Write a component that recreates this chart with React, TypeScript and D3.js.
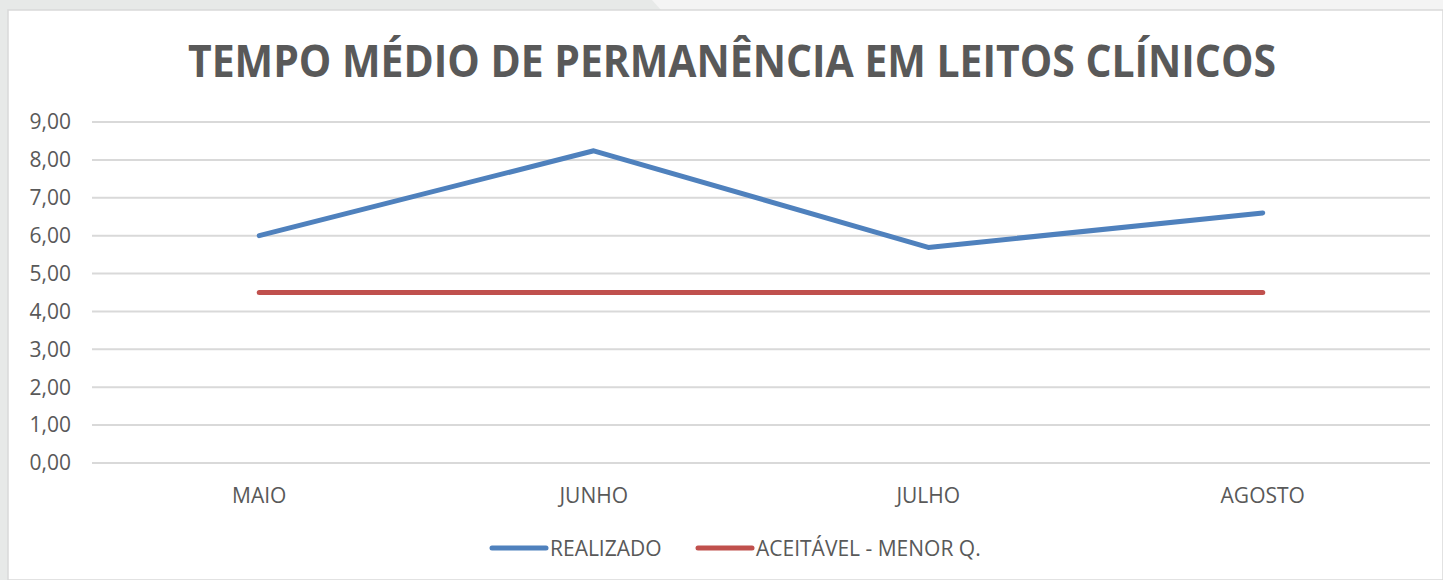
import React from "react";
import * as d3 from "d3";

const categories = ["MAIO", "JUNHO", "JULHO", "AGOSTO"];
const realizado = [6.0, 8.24, 5.69, 6.6];
const aceitavel = [4.5, 4.5, 4.5, 4.5];
const yTicks = [0, 1, 2, 3, 4, 5, 6, 7, 8, 9];
const seriesNames = ["REALIZADO", "ACEITÁVEL - MENOR Q."];
const seriesColors = ["#4f81bd", "#c0504d"];

const W = 1443;
const H = 580;
const left = 92;
const right = 1430;
const top = 122;
const bottom = 463;
const font = "'Open Sans', sans-serif";
const textColor = "#595959";

export default function App() {
  const x = d3.scaleBand<string>().domain(categories).range([left, right]);
  const y = d3.scaleLinear().domain([0, 9]).range([bottom, top]);
  const cx = (c: string) => (x(c) as number) + x.bandwidth() / 2;
  const line = d3
    .line<number>()
    .x((_, i) => cx(categories[i]))
    .y((d) => y(d));
  const series = [realizado, aceitavel];
  const fmt = (v: number) => v.toFixed(2).replace(".", ",");

  return (
    <svg
      width={W}
      height={H}
      style={{ position: "fixed", left: 0, top: 0, display: "block" }}
    >
      <rect x={0} y={0} width={W} height={H} fill="#e7e9e8" />
      <polygon points={`652,0 ${W},0 ${W},10 661,10`} fill="#f4f4f4" />
      <rect x={8} y={10} width={W - 8} height={H - 10} fill="#ffffff" stroke="#d9d9d9" strokeWidth={1.5} />
      <text
        x={732}
        y={77}
        textAnchor="middle"
        fontFamily={font}
        fontWeight={700}
        fontSize={45}
        fill={textColor}
        textLength={1088}
        lengthAdjust="spacingAndGlyphs"
      >
        TEMPO MÉDIO DE PERMANÊNCIA EM LEITOS CLÍNICOS
      </text>
      {yTicks.map((t) => (
        <g key={t}>
          <line x1={left} x2={right} y1={y(t)} y2={y(t)} stroke="#d9d9d9" strokeWidth={2} />
          <text
            x={71}
            y={y(t)}
            dy="0.35em"
            textAnchor="end"
            fontFamily={font}
            fontSize={21}
            fill={textColor}
          >
            {fmt(t)}
          </text>
        </g>
      ))}
      {categories.map((c) => (
        <text
          key={c}
          x={cx(c)}
          y={503}
          textAnchor="middle"
          fontFamily={font}
          fontSize={21}
          fill={textColor}
        >
          {c}
        </text>
      ))}
      {series.map((s, i) => (
        <path
          key={i}
          d={line(s) as string}
          fill="none"
          stroke={seriesColors[i]}
          strokeWidth={5}
          strokeLinecap="round"
          strokeLinejoin="round"
        />
      ))}
      {[
        { x0: 492, x1: 546, tx: 550 },
        { x0: 698, x1: 752, tx: 756 },
      ].map((l, i) => (
        <g key={i}>
          <line x1={l.x0} x2={l.x1} y1={548} y2={548} stroke={seriesColors[i]} strokeWidth={5} strokeLinecap="round" />
          <text x={l.tx} y={556} fontFamily={font} fontSize={21} fill={textColor}>
            {seriesNames[i]}
          </text>
        </g>
      ))}
    </svg>
  );
}
